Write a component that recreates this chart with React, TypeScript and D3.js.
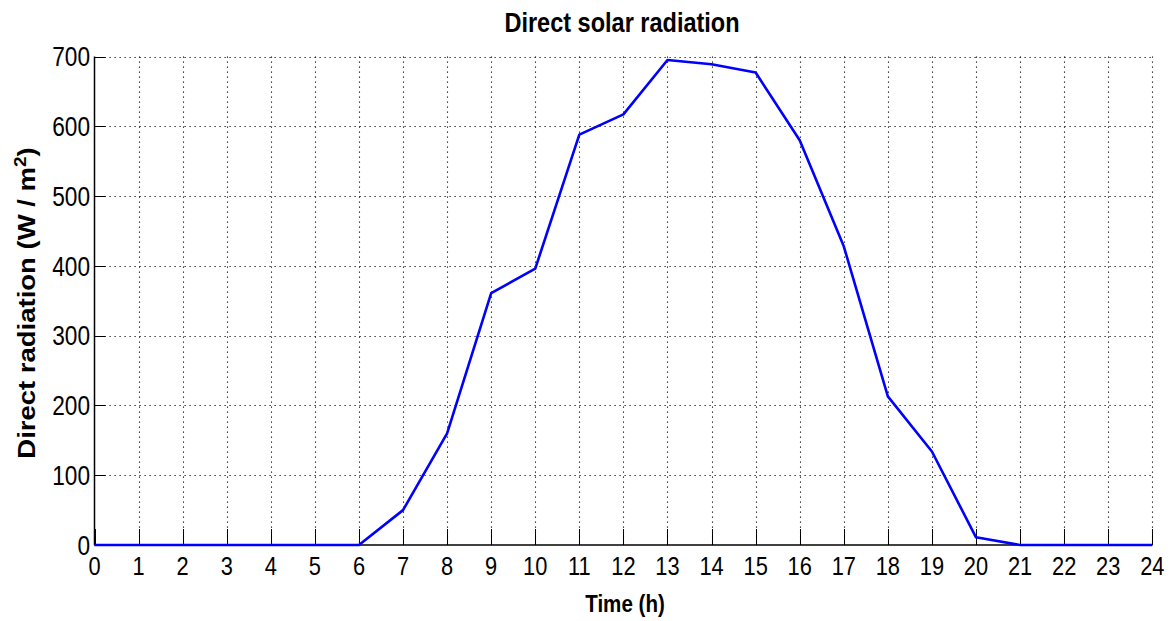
import React from "react";
import * as d3 from "d3";

const hours: number[] = [0, 1, 2, 3, 4, 5, 6, 7, 8, 9, 10, 11, 12, 13, 14, 15, 16, 17, 18, 19, 20, 21, 22, 23, 24];
const radiation: number[] = [0, 0, 0, 0, 0, 0, 0, 50, 160, 361, 396, 588, 617, 695, 689, 677, 580, 428, 213, 134, 11, 0, 0, 0, 0];
const xTicks: number[] = d3.range(0, 25, 1);
const yTicks: number[] = [0, 100, 200, 300, 400, 500, 600, 700];

const TITLE = "Direct solar radiation";
const XLABEL = "Time (h)";

const W = 1172;
const H = 621;
const SX = 0.84;
const FONT = "'Liberation Sans', Arial, Helvetica, sans-serif";

export default function App() {
  const x = d3.scaleLinear().domain([0, 24]).range([94.5, 1152.3]);
  const y = d3.scaleLinear().domain([0, 700]).range([545, 56.5]);
  const line = d3
    .line<number>()
    .x((_, i) => x(hours[i]))
    .y((d) => y(d));
  const [x0, x1] = x.range();
  const [y0, y1] = y.range();

  return (
    <div style={{ position: "absolute", left: 0, top: 0 }}>
      <svg width={W} height={H} style={{ display: "block", background: "#fff" }} fontFamily={FONT}>
        <rect x={0} y={0} width={W} height={H} fill="#fff" />
        {/* grid */}
        <g stroke="#111" strokeWidth={1.1} strokeDasharray="1.2 3.8" fill="none">
          {xTicks
            .filter((t) => t !== 0)
            .map((t) => (
              <line key={"gx" + t} x1={Math.round(x(t)) + 0.5} x2={Math.round(x(t)) + 0.5} y1={y1} y2={y0} />
            ))}
          {yTicks
            .filter((t) => t !== 0)
            .map((t) => (
              <line key={"gy" + t} x1={x0} x2={x1} y1={Math.round(y(t)) + 0.5} y2={Math.round(y(t)) + 0.5} />
            ))}
        </g>
        {/* ticks */}
        <g stroke="#000" strokeWidth={1}>
          {xTicks.map((t) => (
            <line key={"tx" + t} x1={Math.round(x(t)) + 0.5} x2={Math.round(x(t)) + 0.5} y1={y0} y2={y0 - 16} />
          ))}
          {yTicks.map((t) => (
            <line key={"ty" + t} x1={x0} x2={x0 + 11} y1={Math.round(y(t)) + 0.5} y2={Math.round(y(t)) + 0.5} />
          ))}
        </g>
        {/* axes */}
        <g stroke="#000" strokeWidth={1.5} fill="none">
          <line x1={x0} x2={x0} y1={y1} y2={y0} />
          <line x1={x0} x2={x1} y1={y0} y2={y0} />
        </g>
        {/* data line */}
        <path d={line(radiation) || ""} fill="none" stroke="#0000ff" strokeWidth={2.6} strokeLinejoin="round" />
        {/* tick labels */}
        <g fill="#000" fontSize={26}>
          {xTicks.map((t) => (
            <text key={"lx" + t} transform={`translate(${x(t)},575) scale(${SX},1)`} textAnchor="middle">
              {t}
            </text>
          ))}
        </g>
        <g fill="#000" fontSize={27}>
          {yTicks.map((t) => (
            <text key={"ly" + t} transform={`translate(90,${y(t) + 9.8}) scale(${SX},1)`} textAnchor="end">
              {t}
            </text>
          ))}
        </g>
        {/* title */}
        <text transform={`translate(622,32) scale(${SX},1)`} textAnchor="middle" fontSize={28} fontWeight="bold" fill="#000">
          {TITLE}
        </text>
        {/* x label */}
        <text transform={`translate(625,612) scale(${SX},1)`} textAnchor="middle" fontSize={24.5} fontWeight="bold" fill="#000">
          {XLABEL}
        </text>
        {/* y label */}
        <text
          transform={`translate(35,303) scale(${SX},1) rotate(-90)`}
          textAnchor="middle"
          fontSize={27.5}
          fontWeight="bold"
          fill="#000"
        >
          Direct radiation (W / m
          <tspan fontSize={19} dy={-11}>
            2
          </tspan>
          <tspan dy={11}>)</tspan>
        </text>
      </svg>
    </div>
  );
}
